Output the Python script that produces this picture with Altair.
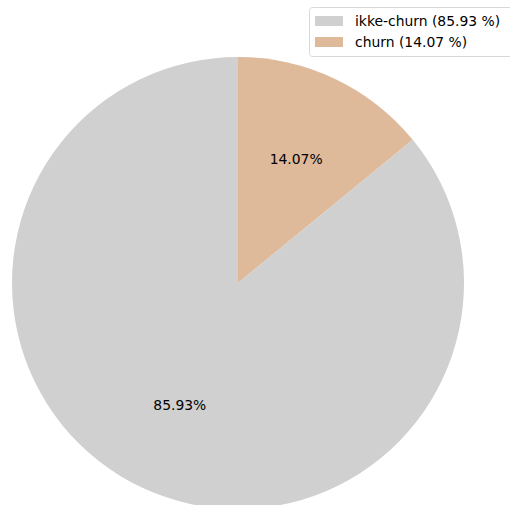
import altair as alt
import pandas as pd

categories = ["churn", "ikke-churn"]
values = [14.07, 85.93]
colors = ["#dfba9a", "#d0d0d0"]
legend_order = ["ikke-churn", "churn"]
legend_labels = ["ikke-churn (85.93 %)", "churn (14.07 %)"]

df = pd.DataFrame({"cat": categories, "value": values, "ord": [0, 1],
                   "label": [f"{v:.2f}%" for v in values]})
leg = pd.DataFrame({"cat": legend_order, "text": legend_labels, "row": [0, 1]})

color_scale = alt.Scale(domain=categories, range=colors)

base = alt.Chart(df).encode(
    theta=alt.Theta("value:Q", stack=True),
    order=alt.Order("ord:Q"),
)

pie = base.mark_arc(radius=226, stroke=None).encode(
    color=alt.Color("cat:N", scale=color_scale, legend=None),
    x=alt.value(238), y=alt.value(283),
)

labels = base.mark_text(radius=136, font="DejaVu Sans", fontSize=13.9, color="#000").encode(
    text="label:N",
    x=alt.value(238), y=alt.value(283),
)

box = alt.Chart(pd.DataFrame({"a": [0]})).mark_rect(
    fill="white", stroke="#d8d8d8", strokeWidth=1, cornerRadius=3
).encode(x=alt.value(309.5), x2=alt.value(512), y=alt.value(7.5), y2=alt.value(56.5))

lb = alt.Chart(leg).transform_calculate(
    yc="21.5 + datum.row * 21", y0="16 + datum.row * 21", y1="26 + datum.row * 21"
)
sym = lb.mark_rect().encode(
    x=alt.value(315), x2=alt.value(343),
    y=alt.Y("y0:Q", scale=None), y2="y1:Q",
    color=alt.Color("cat:N", scale=color_scale, legend=None),
)
txt = lb.mark_text(align="left", baseline="middle", font="DejaVu Sans", fontSize=13.9, color="#000").encode(
    x=alt.value(355), y=alt.Y("yc:Q", scale=None), text="text:N",
)

chart = alt.layer(pie, labels, box, sym, txt).properties(
    width=510, height=505, padding=0, autosize="none"
).configure_view(stroke=None)

chart.save("out.html", embed_options={"renderer": "svg", "actions": False})
